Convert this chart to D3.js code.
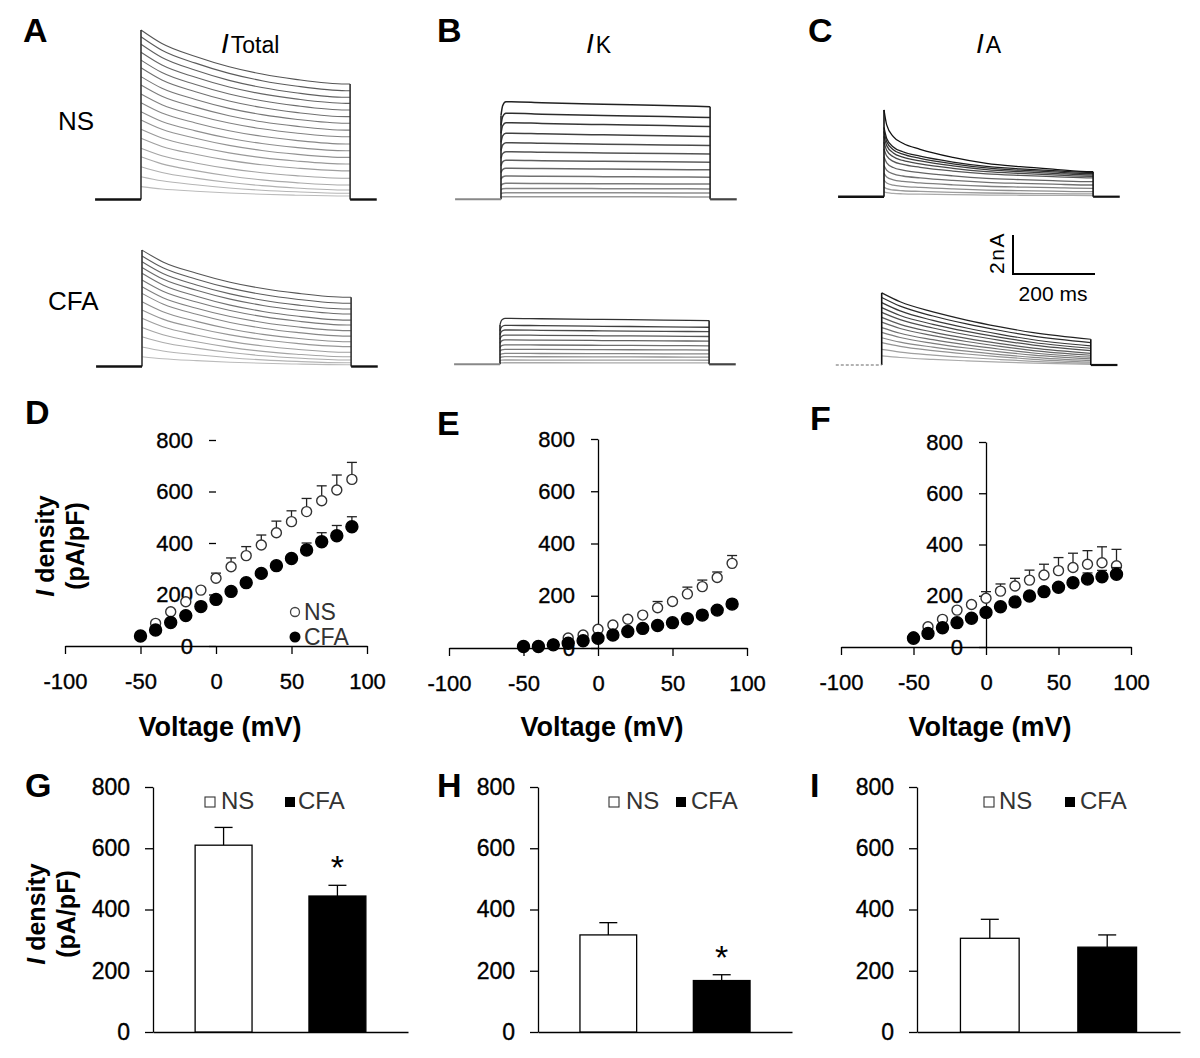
<!DOCTYPE html>
<html><head><meta charset="utf-8">
<script src="https://cdn.jsdelivr.net/npm/d3@7"></script>
<style>
body{margin:0;background:#fff;}
svg{font-family:"Liberation Sans",Arial,sans-serif;}
</style></head><body>
<svg id="fig" width="1200" height="1058"></svg>
<script>
// ================= DATA =================
// I-V curves (pA/pF), mean and SEM
const voltages = [-50,-40,-30,-20,-10,0,10,20,30,40,50,60,70,80,90];
const totalNS     = [40,88,133,172,217,263,308,351,392,440,483,522,564,606,647];
const totalNSerr  = [8,10,12,14,16,20,34,35,39,45,42,51,58,58,66];
const totalCFA    = [39,62,91,118,153,181,212,246,282,312,340,373,405,428,463];
const totalCFAerr = [5,6,7,8,10,12,14,16,18,20,22,27,35,40,39];
const kNS     = [5,8,15,38,50,72,88,110,126,154,178,207,235,270,324];
const kNSerr  = [3,3,4,5,6,8,10,12,18,24,17,26,25,21,30];
const kCFA    = [6,6,12,18,28,37,50,63,75,86,97,112,126,145,168];
const kCFAerr = [2,2,3,3,4,5,6,6,7,8,9,10,12,14,22];
const aNS     = [40,79,108,144,166,190,218,238,261,281,298,310,323,329,317];
const aNSerr  = [6,8,10,12,14,26,28,30,39,42,51,56,53,62,64];
const aCFA    = [34,53,75,95,112,135,157,176,199,216,233,251,265,274,284];
const aCFAerr = [4,5,6,7,8,10,12,14,15,18,20,22,24,25,26];

// Bar charts (pA/pF)
const groups = ["NS","CFA"];
const barTotal = [610,444], barTotalErr = [58,35];
const barK     = [317,168], barKErr     = [40,19];
const barA     = [306,277], barAErr     = [62,40];

// Axis ticks
const xTicksIV = [-100,-50,0,50,100];
const yTicks = [0,200,400,600,800];

// Current traces (nA vs ms), per sweep (top sweep first)
const pulseEnd = 510;
const totalTimes = [0,51,133,215,295,377,500];
const totalShape = [1,0.75,0.51,0.32,0.185,0.087,0];
const totalNSpeaks = [8.69,8.35,7.96,7.55,7.15,6.76,6.3,5.87,5.41,4.96,4.5,4.08,3.6,3.14,2.63,2.19,1.68,1.17,0.66];
const totalNSends  = [5.92,5.58,5.24,4.93,4.59,4.25,3.91,3.56,3.22,2.85,2.5,2.16,1.82,1.47,1.09,0.74,0.49,0.32,0.18];
const totalCFApeaks = [5.97,5.67,5.37,5.08,4.78,4.44,4.09,3.75,3.32,2.9,2.47,2.0,1.53,1.0,0.5];
const totalCFAends  = [3.55,3.24,2.95,2.69,2.38,2.13,1.84,1.56,1.27,1.02,0.73,0.5,0.33,0.19,0.09];
const kTimes = [0,4,12,25,100,250,400,510];
const kShape = [0.86,0.96,1.0,1.0,0.99,0.975,0.962,0.95];
const kNSamps  = [5.0,4.41,3.93,3.39,2.9,2.44,2.0,1.59,1.19,0.82,0.56,0.34,0.13];
const kCFAamps = [2.36,2.0,1.76,1.5,1.25,1.0,0.77,0.56,0.39,0.22,0.08];
const aNStimes = [0,6.6,22.7,46,88,168,250,332,412,507];
const aNSshape = [1,0.757,0.568,0.461,0.363,0.233,0.136,0.082,0.041,0];
const aNSpeaks = [4.45,3.55,3.35,3.1,2.8,2.45,2.05,1.6,1.2,0.85,0.5,0.25];
const aNSends  = [1.28,1.24,1.18,1.12,1.05,0.97,0.77,0.6,0.43,0.26,0.14,0.06];
const aCFAtimes = [0,45,125,207,289,370,510];
const aCFAshape = [1,0.808,0.59,0.414,0.268,0.142,0];
const aCFApeaks = [3.7,3.46,3.2,2.94,2.7,2.44,2.2,1.92,1.67,1.4,1.15,0.8,0.47];
const aCFAends  = [1.32,1.15,0.98,0.86,0.74,0.6,0.5,0.4,0.31,0.22,0.15,0.09,0.03];

// ================= DRAWING =================
const FONT = '"Liberation Sans", Arial, sans-serif';
const svg = d3.select("#fig");

function tracePanel(c) {
  const x = d3.scaleLinear().domain([0,200]).range([c.onset, c.onset+82]);
  const y = d3.scaleLinear().domain([0,2]).range([c.base, c.base-39]);
  const g = svg.append("g");
  const n = c.a.length;
  const col = i => d3.interpolateRgb(c.dark, c.light)(n>1 ? i/(n-1) : 0);
  const line = d3.line().x(d=>x(d[0])).y(d=>y(d[1])).curve(d3.curveMonotoneX);
  let maxStart = 0, maxEnd = 0;
  for (let i=n-1;i>=0;i--) {
    let pts;
    if (c.mode === "scale") pts = c.times.map((t,k)=>[t, c.a[i]*c.shape[k]]);
    else pts = c.times.map((t,k)=>[t, c.b[i] + (c.a[i]-c.b[i])*c.shape[k]]);
    if (pts[pts.length-1][0] < pulseEnd) pts.push([pulseEnd, pts[pts.length-1][1]]);
    maxStart = Math.max(maxStart, pts[0][1]);
    maxEnd = Math.max(maxEnd, pts[pts.length-1][1]);
    g.append("path").attr("d", line(pts)).attr("fill","none").attr("stroke", col(i))
      .attr("stroke-width", c.sw).attr("stroke-linejoin","round");
  }
  // onset and offset steps of the sweeps
  g.append("line").attr("x1", x(0)).attr("x2", x(0)).attr("y1", y(0)).attr("y2", y(maxStart))
    .attr("stroke", c.stepCol).attr("stroke-width", 1.6);
  g.append("line").attr("x1", x(pulseEnd)).attr("x2", x(pulseEnd)).attr("y1", y(0)).attr("y2", y(maxEnd))
    .attr("stroke", c.stepCol).attr("stroke-width", 1.6);
  g.append("line").attr("x1", x(-112)).attr("x2", x(0)).attr("y1", y(0)).attr("y2", y(0))
    .attr("stroke", c.preCol).attr("stroke-width", c.preW).attr("stroke-dasharray", c.preDash || null);
  g.append("line").attr("x1", x(pulseEnd)).attr("x2", x(575)).attr("y1", y(0)).attr("y2", y(0))
    .attr("stroke", c.postCol).attr("stroke-width", c.postW);
  return {x, y};
}

tracePanel({onset:141, base:199.5, a:totalNSpeaks, b:totalNSends, times:totalTimes, shape:totalShape,
  dark:"#555", light:"#bbb", sw:1.1, stepCol:"#333", preCol:"#111", preW:2.6, postCol:"#111", postW:2.4});
tracePanel({onset:142, base:366.5, a:totalCFApeaks, b:totalCFAends, times:totalTimes, shape:totalShape,
  dark:"#555", light:"#bbb", sw:1.1, stepCol:"#333", preCol:"#111", preW:2.4, postCol:"#111", postW:2.4});
tracePanel({onset:501, base:199.3, a:kNSamps, times:kTimes, shape:kShape, mode:"scale",
  dark:"#222", light:"#999", sw:1.5, stepCol:"#222", preCol:"#888", preW:2, postCol:"#444", postW:2.2});
tracePanel({onset:500, base:364.3, a:kCFAamps, times:kTimes, shape:kShape, mode:"scale",
  dark:"#333", light:"#aaa", sw:1.3, stepCol:"#222", preCol:"#888", preW:2, postCol:"#444", postW:2.2});
tracePanel({onset:884, base:196.7, a:aNSpeaks, b:aNSends, times:aNStimes, shape:aNSshape,
  dark:"#111", light:"#aaa", sw:1.3, stepCol:"#111", preCol:"#111", preW:2.6, postCol:"#111", postW:2.2});
tracePanel({onset:881.7, base:365, a:aCFApeaks, b:aCFAends, times:aCFAtimes, shape:aCFAshape,
  dark:"#222", light:"#aaa", sw:1.2, stepCol:"#111", preCol:"#999", preW:1.6, preDash:"3,2", postCol:"#111", postW:2.2});

// scale bar (2 nA, 200 ms)
const sbx = d3.scaleLinear().domain([0,200]).range([1013, 1095]);
const sby = d3.scaleLinear().domain([0,2]).range([274, 235]);
svg.append("path").attr("d", `M${sbx(0)},${sby(2)}L${sbx(0)},${sby(0)}L${sbx(200)},${sby(0)}`)
  .attr("fill","none").attr("stroke","#000").attr("stroke-width",2);
svg.append("text").attr("transform","translate(1004,253) rotate(-90)").attr("text-anchor","middle")
  .attr("font-size",21).attr("letter-spacing","1.5").text("2nA");
svg.append("text").attr("x",1053).attr("y",301).attr("text-anchor","middle").attr("font-size",21).text("200 ms");

// trace titles and row labels
function title(xI, sub) {
  const t = svg.append("text").attr("x", xI).attr("y", 53).attr("font-size", 28);
  t.append("tspan").attr("font-style","italic").text("I");
  t.append("tspan").attr("font-size", 23).attr("dx", 2).text(sub);
}
title(221, "Total"); title(586, "K"); title(976, "A");
svg.append("text").attr("x",58).attr("y",130).attr("font-size",26).text("NS");
svg.append("text").attr("x",48).attr("y",310).attr("font-size",26).text("CFA");

// panel letters
[["A",23,42],["B",437,42],["C",808,42],["D",25,424],["E",437,435],["F",810,430],["G",25,797],["H",437,797],["I",810,797]]
  .forEach(([l,x,y]) => svg.append("text").attr("x",x).attr("y",y).attr("font-size",34).attr("font-weight","bold").text(l));

function yLabel(xc, yc) {
  const t = svg.append("text").attr("transform",`translate(${xc},${yc}) rotate(-90)`)
    .attr("text-anchor","middle").attr("font-size",25).attr("font-weight","bold");
  t.append("tspan").attr("x",0).attr("dy",0).attr("font-style","italic").text("I");
  t.append("tspan").text(" density");
  t.append("tspan").attr("x",0).attr("dy",30).text("(pA/pF)");
}

function styleAxis(g, fs) {
  g.attr("font-family", FONT).attr("font-size", fs);
  g.selectAll("path,line").attr("stroke","#000").attr("stroke-width",1.3);
  g.selectAll("text").attr("fill","#000").attr("stroke","#000").attr("stroke-width",0.35);
}

const plainFmt = d => String(d);

function ivPanel(c) {
  const x = d3.scaleLinear().domain([-100,100]).range([c.x0, c.x1]);
  const y = d3.scaleLinear().domain([0,800]).range([c.y0, c.y1]);
  const g = svg.append("g");
  const ya = g.append("g").attr("transform",`translate(${x(0)},0)`)
    .call(d3.axisLeft(y).tickValues(yTicks).tickFormat(plainFmt).tickSize(7).tickPadding(16).tickSizeOuter(0));
  styleAxis(ya, 22);
  if (c.noYLine) ya.select(".domain").remove();
  const xa = g.append("g").attr("transform",`translate(0,${c.y0})`)
    .call(d3.axisBottom(x).tickValues(xTicksIV).tickFormat(plainFmt).tickSize(8).tickPadding(19).tickSizeOuter(0));
  styleAxis(xa, 22);
  g.append("text").attr("x", x(0)+4).attr("y", 736).attr("text-anchor","middle")
    .attr("font-size",27).attr("font-weight","bold").text("Voltage (mV)");
  const series = [
    {v:c.ns, e:c.nsErr, r:5, fill:"#fff", stroke:"#333"},
    {v:c.cfa, e:c.cfaErr, r:6, fill:"#000", stroke:"#000"}
  ];
  series.forEach(s => {
    const eb = g.append("g").attr("stroke","#222").attr("stroke-width",1.3);
    voltages.forEach((vv,i) => {
      const top = y(s.v[i]+s.e[i]);
      if (y(s.v[i]) - s.r <= top) return;
      eb.append("line").attr("x1",x(vv)).attr("x2",x(vv)).attr("y1",y(s.v[i])-s.r).attr("y2",top);
      eb.append("line").attr("x1",x(vv)-5).attr("x2",x(vv)+5).attr("y1",top).attr("y2",top);
    });
    g.append("g").selectAll("circle").data(voltages).join("circle")
      .attr("cx", d=>x(d)).attr("cy", (d,i)=>y(s.v[i])).attr("r", s.r)
      .attr("fill", s.fill).attr("stroke", s.stroke).attr("stroke-width",1.4);
  });
  return {x,y,g};
}

const pD = ivPanel({x0:65, x1:367, y0:646, y1:440, ns:totalNS, nsErr:totalNSerr, cfa:totalCFA, cfaErr:totalCFAerr, noYLine:true});
ivPanel({x0:449, x1:747, y0:648, y1:439, ns:kNS, nsErr:kNSerr, cfa:kCFA, cfaErr:kCFAerr});
ivPanel({x0:841, x1:1131, y0:647, y1:442, ns:aNS, nsErr:aNSerr, cfa:aCFA, cfaErr:aCFAerr});

// legend in D
pD.g.append("circle").attr("cx",295).attr("cy",612).attr("r",4.5).attr("fill","#fff").attr("stroke","#444").attr("stroke-width",1.3);
pD.g.append("text").attr("x",304).attr("y",620).attr("font-size",23).attr("fill","#333").text("NS");
pD.g.append("circle").attr("cx",295).attr("cy",637).attr("r",5.5).attr("fill","#000");
pD.g.append("text").attr("x",304).attr("y",645).attr("font-size",23).attr("fill","#333").text("CFA");

yLabel(54, 546);
yLabel(45, 914);

function barPanel(c) {
  const x = d3.scaleBand().domain(groups).range([c.x0, c.x1]).paddingInner(0.5).paddingOuter(0.37);
  const y = d3.scaleLinear().domain([0,800]).range([1032, 787]);
  const g = svg.append("g");
  const ya = g.append("g").attr("transform",`translate(${c.x0},0)`)
    .call(d3.axisLeft(y).tickValues(yTicks).tickFormat(plainFmt).tickSize(8).tickPadding(15).tickSizeOuter(0));
  styleAxis(ya, 23);
  const xa = g.append("g").attr("transform",`translate(0,1032)`)
    .call(d3.axisBottom(x).tickSize(0).tickFormat(""));
  styleAxis(xa, 10);
  groups.forEach((k,i) => {
    const cx = x(k) + x.bandwidth()/2, top = y(c.v[i]+c.e[i]);
    g.append("line").attr("x1",cx).attr("x2",cx).attr("y1",y(c.v[i])).attr("y2",top).attr("stroke","#000").attr("stroke-width",1.3);
    g.append("line").attr("x1",cx-9).attr("x2",cx+9).attr("y1",top).attr("y2",top).attr("stroke","#000").attr("stroke-width",1.3);
  });
  g.selectAll("rect.bar").data(groups).join("rect").attr("class","bar")
    .attr("x", d=>x(d)).attr("width", x.bandwidth())
    .attr("y", (d,i)=>y(c.v[i])).attr("height", (d,i)=>y(0)-y(c.v[i]))
    .attr("fill", (d,i)=> i===0 ? "#fff" : "#000").attr("stroke","#000").attr("stroke-width",1.3);
  if (c.star) {
    const cx = x("CFA") + x.bandwidth()/2;
    g.append("text").attr("x",cx).attr("y", y(c.v[1]+c.e[1]) - 6).attr("text-anchor","middle")
      .attr("font-size",34).text("*");
  }
  // legend
  g.append("rect").attr("x",c.lg[0]).attr("y",797).attr("width",10).attr("height",10).attr("fill","#fff").attr("stroke","#333").attr("stroke-width",1.1);
  g.append("text").attr("x",c.lg[1]).attr("y",809).attr("font-size",24).attr("fill","#333").text("NS");
  g.append("rect").attr("x",c.lg[2]).attr("y",797).attr("width",10).attr("height",10).attr("fill","#000");
  g.append("text").attr("x",c.lg[3]).attr("y",809).attr("font-size",24).attr("fill","#333").text("CFA");
}

barPanel({x0:153, x1:408, v:barTotal, e:barTotalErr, star:true, lg:[205,221,285,298]});
barPanel({x0:538, x1:792, v:barK, e:barKErr, star:true, lg:[609,626,676,691]});
barPanel({x0:917, x1:1180, v:barA, e:barAErr, star:false, lg:[984,999,1065,1080]});
</script>
</body></html>
